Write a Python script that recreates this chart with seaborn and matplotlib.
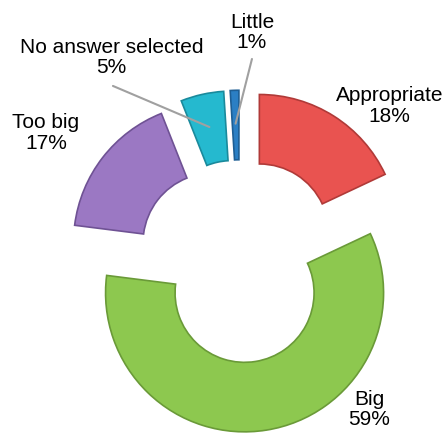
import numpy as np
import matplotlib
matplotlib.use('Agg')
import matplotlib.pyplot as plt
import seaborn as sns

# answers, clockwise from 12 o'clock
labels = ['Appropriate', 'Big', 'Too big', 'No answer selected', 'Little']
shares = [18, 59, 17, 5, 1]
colors = ['#E95350', '#8DC84F', '#9B78C3', '#25B9CF', '#2B7FC4']
edges = ['#B03A38', '#6A9A38', '#6F5294', '#1A8A9C', '#1E5E94']

sns.set_theme(style='white')
plt.rcParams['font.family'] = ['Liberation Sans', 'DejaVu Sans']

fig = plt.figure(figsize=(4.47, 4.39), dpi=100)
ax = fig.add_axes([0, 0, 1, 1])

wedges, _ = ax.pie(shares, colors=colors, startangle=90, counterclock=False,
                   explode=[0.26, 0.21, 0.25, 0.25, 0.25],
                   wedgeprops=dict(width=0.5, linewidth=1.2))
for w, ec in zip(wedges, edges):
    w.set_edgecolor(ec)

# label text spots (data units, 1 = outer radius)
text_pos = [(1.076, 1.144), (0.928, -1.040), (-1.396, 0.950),
            (-0.924, 1.493), (0.086, 1.673)]
for lab, val, (tx, ty) in zip(labels, shares, text_pos):
    ax.text(tx, ty, f'{lab}\n{val}%', ha='center', va='center',
            fontsize=15, linespacing=1.1, color='black')

# leader lines for the two thin slices
line_start = {3: (-0.914, 1.281), 4: (0.086, 1.475)}
for i, (sx, sy) in line_start.items():
    w = wedges[i]
    mid = np.deg2rad((w.theta1 + w.theta2) / 2)
    cx, cy = w.center
    ex, ey = cx + 0.76 * np.cos(mid), cy + 0.76 * np.sin(mid)
    ax.plot([sx, ex], [sy, ey], color='#A0A0A0', linewidth=1.5)

ax.set_xlim(-240 / 139, 207 / 139)
ax.set_ylim(-174 / 139, 265 / 139)
ax.set_aspect('equal')
ax.axis('off')

fig.savefig('out.png', dpi=100)
